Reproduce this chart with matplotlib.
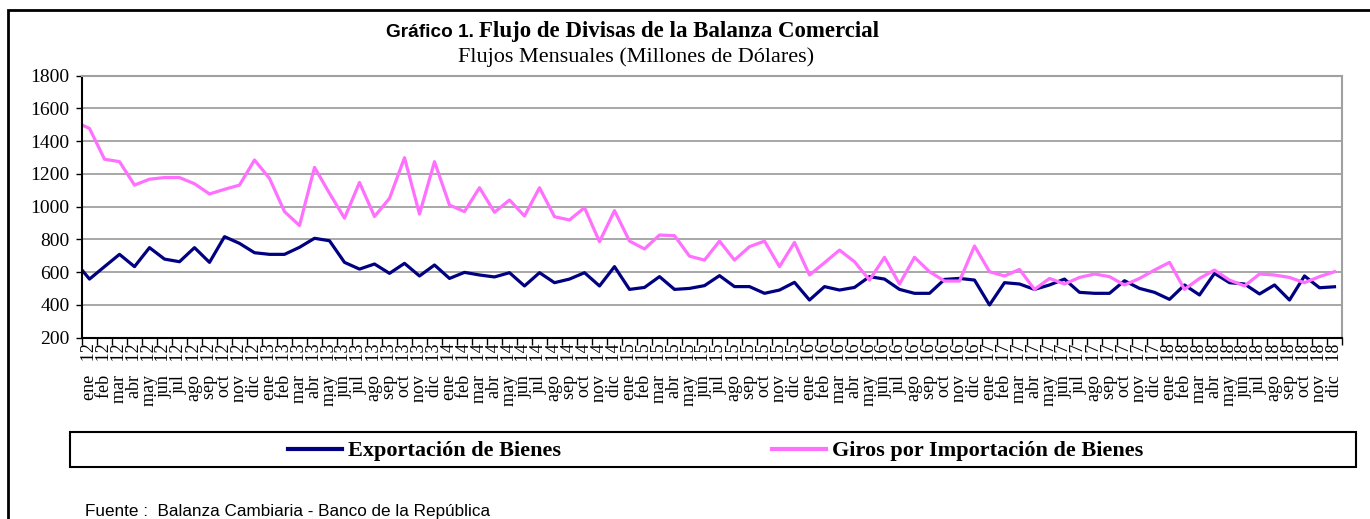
import matplotlib.pyplot as plt
from matplotlib.patches import Rectangle
from matplotlib.lines import Line2D

meses = ['ene', 'feb', 'mar', 'abr', 'may', 'jun', 'jul', 'ago', 'sep', 'oct', 'nov', 'dic']
anios = ['12', '13', '14', '15', '16', '17', '18']
etiquetas = [m + '   ' + a for a in anios for m in meses]

# valor de dic 11, solo para el tramo inicial de cada serie
exp_dic11 = 668
giros_dic11 = 1520

exportaciones = [558, 634, 709, 634, 750, 680, 664, 750, 660, 817, 776, 719,
                 709, 709, 752, 807, 792, 660, 619, 650, 593, 654, 577, 644,
                 562, 599, 583, 571, 597, 516, 597, 536, 558, 597, 516, 634,
                 495, 507, 573, 495, 501, 518, 579, 512, 512, 471, 491, 538,
                 430, 512, 491, 507, 573, 558, 495, 471, 471, 556, 562, 552,
                 400, 536, 528, 495, 522, 558, 477, 471, 471, 548, 501, 477,
                 434, 522, 461, 593, 536, 528, 467, 522, 430, 577, 505, 511]

giros_importacion = [1478, 1290, 1275, 1132, 1168, 1178, 1178, 1140, 1078, 1106, 1132, 1285,
                     1173, 970, 885, 1240, 1082, 930, 1148, 940, 1051, 1299, 955, 1275,
                     1010, 970, 1116, 966, 1041, 943, 1116, 939, 919, 994, 786, 976,
                     790, 742, 827, 823, 698, 674, 790, 674, 756, 790, 634, 782,
                     583, 658, 735, 664, 552, 691, 528, 691, 603, 546, 546, 760,
                     603, 577, 617, 495, 562, 528, 568, 589, 573, 522, 562, 613,
                     660, 495, 562, 613, 552, 516, 589, 583, 568, 536, 573, 603]

navy = '#000080'
rosa = '#ff70ff'
gris = '#a0a0a0'

fig = plt.figure(figsize=(13.7, 5.19), dpi=100)
ax = fig.add_axes([82 / 1370, 1 - 337.7 / 519, (1342 - 82) / 1370, (337.7 - 75.7) / 519])

x = list(range(-1, len(exportaciones)))
ax.plot(x, [exp_dic11] + exportaciones, color=navy, lw=2.3, solid_joinstyle='round')
ax.plot(x, [giros_dic11] + giros_importacion, color=rosa, lw=2.3, solid_joinstyle='round')

ax.set_xlim(-0.5, len(exportaciones) - 0.5)
ax.set_ylim(200, 1800)
ax.set_yticks(range(200, 1801, 200))
ax.yaxis.grid(True, color=gris, lw=1.3)
ax.set_axisbelow(True)

ax.set_xticks(range(len(etiquetas)))
ax.set_xticklabels(etiquetas, rotation=90, family='Liberation Serif', fontsize=13)
ax.set_xticks([i - 0.5 for i in range(len(etiquetas) + 1)], minor=True)
ax.tick_params(axis='x', which='major', length=0, pad=4)
ax.tick_params(axis='x', which='minor', length=5, width=1, direction='out')
ax.tick_params(axis='y', length=4, width=1, direction='out', pad=5)
for t in ax.get_yticklabels():
    t.set_family('Liberation Serif')
    t.set_fontsize(14)

ax.spines['left'].set_color('black')
ax.spines['bottom'].set_color('black')
ax.spines['left'].set_linewidth(1.5)
ax.spines['bottom'].set_linewidth(1.5)
ax.spines['top'].set_color(gris)
ax.spines['right'].set_color(gris)
ax.spines['top'].set_linewidth(1.5)
ax.spines['right'].set_linewidth(1.5)

# titulo
fig.text(474 / 1370, 1 - 37 / 519, 'Gráfico 1.', ha='right', va='baseline',
         family='Liberation Sans', weight='bold', fontsize=13.7)
fig.text(479 / 1370, 1 - 37 / 519, 'Flujo de Divisas de la Balanza Comercial', ha='left', va='baseline',
         family='Liberation Serif', weight='bold', fontsize=16.5)
fig.text(636 / 1370, 1 - 62 / 519, 'Flujos Mensuales (Millones de Dólares)', ha='center', va='baseline',
         family='Liberation Serif', fontsize=16)

# leyenda en caja
fig.patches.append(Rectangle((70 / 1370, 1 - 467 / 519), (1356 - 70) / 1370, 35 / 519,
                             transform=fig.transFigure, fill=False, edgecolor='black', lw=1.5))
handles = [Line2D([], [], color=navy, lw=3), Line2D([], [], color=rosa, lw=3)]
fig.legend(handles, ['Exportación de Bienes', 'Giros por Importación de Bienes'],
           loc='center', bbox_to_anchor=(716 / 1370, 1 - 451 / 519), ncol=2, frameon=False,
           prop={'family': 'Liberation Serif', 'weight': 'bold', 'size': 16},
           handlelength=2.4, handletextpad=0.3, columnspacing=9.5)

fig.text(85 / 1370, 1 - 516 / 519, 'Fuente :  Balanza Cambiaria - Banco de la República',
         ha='left', va='baseline', family='Liberation Sans', fontsize=12.3)

# marco exterior
fig.patches.append(Rectangle((8 / 1370, -0.05), 1.2, 1 - 10 / 519 + 0.05,
                             transform=fig.transFigure, fill=False, edgecolor='black', lw=2))

plt.savefig('out.png', dpi=100)
